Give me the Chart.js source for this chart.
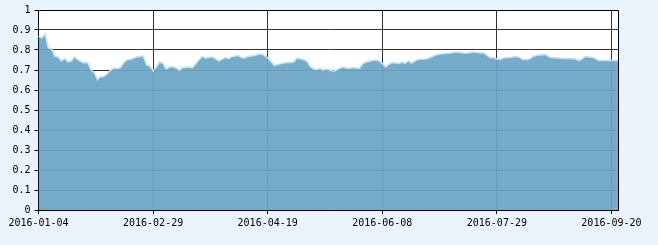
<!DOCTYPE html>
<html>
<head>
<meta charset="utf-8">
<script src="https://cdn.jsdelivr.net/npm/chart.js@4/dist/chart.umd.min.js"></script>
<style>
  html, body { margin: 0; padding: 0; background: #e8f3fb; }
  canvas { display: block; }
</style>
</head>
<body>
<canvas id="chart" width="658" height="245"></canvas>
<script>
// Trading days (weekdays minus market holidays)
const startDate = "2016-01-04";
const endDate = "2016-09-22";
const holidays = [
    "2016-02-08", "2016-02-09", "2016-02-10", "2016-02-11", "2016-02-12",
    "2016-04-04", "2016-05-02", "2016-06-09", "2016-06-10",
    "2016-09-15", "2016-09-16"
];

// Values, one per trading day
const values = [
    0.868, 0.86, 0.88, 0.81, 0.805, 0.768, 0.765, 0.745, 0.758, 0.74,
    0.745, 0.765, 0.752, 0.742, 0.735, 0.738, 0.70, 0.688, 0.652, 0.668,
    0.668, 0.682, 0.698, 0.71, 0.707, 0.712, 0.735, 0.75, 0.752, 0.758,
    0.765, 0.768, 0.77, 0.726, 0.72, 0.695, 0.715, 0.74, 0.733, 0.705,
    0.715, 0.716, 0.71, 0.698, 0.712, 0.714, 0.715, 0.71, 0.73, 0.75,
    0.768, 0.76, 0.762, 0.765, 0.757, 0.745, 0.752, 0.762, 0.757, 0.765,
    0.77, 0.772, 0.762, 0.76, 0.768, 0.77, 0.772, 0.777, 0.78, 0.773,
    0.76, 0.743, 0.723, 0.727, 0.733, 0.735, 0.738, 0.738, 0.74, 0.76,
    0.755, 0.752, 0.743, 0.718, 0.705, 0.702, 0.707, 0.70, 0.705, 0.70,
    0.693, 0.70, 0.708, 0.715, 0.71, 0.708, 0.712, 0.71, 0.708, 0.73,
    0.74, 0.743, 0.748, 0.75, 0.745, 0.732, 0.715, 0.728, 0.737, 0.735,
    0.733, 0.74, 0.733, 0.745, 0.735, 0.745, 0.753, 0.754, 0.755, 0.757,
    0.765, 0.772, 0.778, 0.78, 0.782, 0.784, 0.785, 0.79, 0.788, 0.787,
    0.784, 0.785, 0.788, 0.79, 0.788, 0.785, 0.785, 0.773, 0.76, 0.762,
    0.755, 0.753, 0.76, 0.762, 0.763, 0.765, 0.767, 0.762, 0.752, 0.752,
    0.755, 0.767, 0.772, 0.775, 0.776, 0.776, 0.765, 0.761, 0.76, 0.76,
    0.758, 0.758, 0.757, 0.756, 0.755, 0.748, 0.755, 0.768, 0.765, 0.764,
    0.758, 0.748, 0.747, 0.748, 0.748, 0.748, 0.747, 0.747
];

const labelStep = 35; // a date label every 35 trading days

// Build the list of trading dates
function tradingDays(start, end, skip) {
    const days = [];
    const d = new Date(start + "T00:00:00Z");
    const last = new Date(end + "T00:00:00Z");
    while (d <= last) {
        const iso = d.toISOString().slice(0, 10);
        const wd = d.getUTCDay();
        if (wd !== 0 && wd !== 6 && !skip.includes(iso)) days.push(iso);
        d.setUTCDate(d.getUTCDate() + 1);
    }
    return days;
}
const dates = tradingDays(startDate, endDate, holidays);

// White plot area and black frame
const frame = {
    id: "frame",
    beforeDraw(chart) {
        const a = chart.chartArea, ctx = chart.ctx;
        ctx.save();
        ctx.fillStyle = "#ffffff";
        ctx.fillRect(a.left, a.top, a.right - a.left, a.bottom - a.top);
        ctx.restore();
    },
    afterDraw(chart) {
        const a = chart.chartArea, ctx = chart.ctx;
        ctx.save();
        ctx.strokeStyle = "#000";
        ctx.lineWidth = 1;
        ctx.beginPath();
        ctx.moveTo(Math.round(a.left) + 0.5, Math.round(a.top) + 0.5);
        ctx.lineTo(Math.round(a.right) + 0.5, Math.round(a.top) + 0.5);
        ctx.lineTo(Math.round(a.right) + 0.5, Math.round(a.bottom) + 0.5);
        ctx.stroke();
        ctx.restore();
    }
};

const font = { family: "'DejaVu Sans Mono', monospace", size: 10 };

new Chart(document.getElementById("chart").getContext("2d"), {
    type: "line",
    data: {
        labels: dates,
        datasets: [{
            data: values,
            fill: "origin",
            backgroundColor: "rgba(108,166,198,0.93)",
            borderColor: "#c4e0f2",
            borderWidth: 1.5,
            pointRadius: 0,
            tension: 0
        }]
    },
    options: {
        responsive: false,
        animation: false,
        layout: { padding: { top: 10, right: 40, bottom: 0, left: 0 } },
        plugins: { legend: { display: false }, tooltip: { enabled: false } },
        scales: {
            x: {
                type: "category",
                offset: false,
                afterFit: (s) => { s.height = 35; },
                grid: {
                    color: (c) => (c.index % labelStep === 0 ? "#333" : "rgba(0,0,0,0)"),
                    tickColor: (c) => (c.index % labelStep === 0 ? "#000" : "rgba(0,0,0,0)"),
                    tickLength: 4,
                    lineWidth: 1
                },
                border: { color: "#000", width: 1 },
                ticks: {
                    autoSkip: false,
                    maxRotation: 0,
                    padding: 3,
                    color: "#000",
                    font: font,
                    callback: function (v, i) {
                        return i % labelStep === 0 ? this.getLabelForValue(v) : "";
                    }
                }
            },
            y: {
                min: 0,
                max: 1,
                afterFit: (s) => { s.width = 38.5; },
                grid: { color: "#333", tickColor: "#000", tickLength: 4, lineWidth: 1 },
                border: { color: "#000", width: 1 },
                ticks: {
                    stepSize: 0.1,
                    padding: 4,
                    color: "#000",
                    font: font,
                    callback: (v) => String(Number(v.toFixed(1)))
                }
            }
        }
    },
    plugins: [frame]
});
</script>
</body>
</html>
